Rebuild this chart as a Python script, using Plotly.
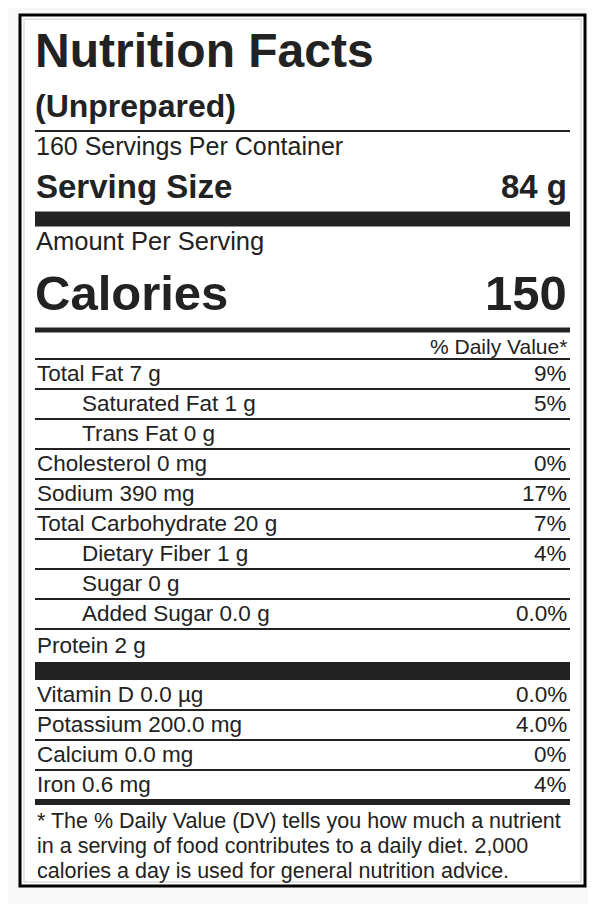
import plotly.graph_objects as go

title = "Nutrition Facts"
subtitle = "(Unprepared)"
servings = "160 Servings Per Container"
serving_size = "84 g"
calories = "150"
nutrients = ["Total Fat 7 g", "Saturated Fat 1 g", "Trans Fat 0 g", "Cholesterol 0 mg",
             "Sodium 390 mg", "Total Carbohydrate 20 g", "Dietary Fiber 1 g", "Sugar 0 g",
             "Added Sugar 0.0 g", "Protein 2 g"]
nutrient_dv = ["9%", "5%", "", "0%", "17%", "7%", "4%", "", "0.0%", ""]
indent = [0, 1, 1, 0, 0, 0, 1, 1, 1, 0]
vitamins = ["Vitamin D 0.0 µg", "Potassium 200.0 mg", "Calcium 0.0 mg", "Iron 0.6 mg"]
vitamin_dv = ["0.0%", "4.0%", "0%", "4%"]
footnote = ["* The % Daily Value (DV) tells you how much a nutrient",
            "in a serving of food contributes to a daily diet. 2,000",
            "calories a day is used for general nutrition advice."]

L, R = 35, 570
C = "#222222"
F = "Liberation Sans, Arial, sans-serif"
fig = go.Figure()
shapes, ann = [], []

def line(y, w):
    shapes.append(dict(type="rect", x0=L, x1=R, y0=y - w / 2, y1=y + w / 2,
                       fillcolor=C, line_width=0, layer="above"))

def text(x, y, s, size, bold=False, anchor="left"):
    ann.append(dict(x=x, y=y, text=f"<b>{s}</b>" if bold else s, showarrow=False,
                    xanchor=anchor, yanchor="middle", xshift=-1 if anchor == "right" else 0,
                    font=dict(family=F, size=size, color=C)))

# border
shapes.append(dict(type="rect", x0=20, x1=585, y0=15, y1=886, fillcolor="white",
                   line=dict(color="black", width=3), layer="below"))
shapes.append(dict(type="rect", x0=24, x1=581, y0=19, y1=882,
                   line=dict(color="#cccccc", width=1), layer="below"))

text(L - 2, 50, title, 48, True)
text(L - 2, 106, subtitle, 32, True)
line(131, 2)
text(L - 1, 146, servings, 25)
text(L - 1, 186, "Serving Size", 33, True)
text(R, 186, serving_size, 33, True, "right")
line(219, 15)
text(L - 1, 241, "Amount Per Serving", 25.5)
text(L - 2, 293, "Calories", 49, True)
text(R, 293, calories, 49, True, "right")
line(330, 5)
text(R, 346, "% Daily Value*", 21, anchor="right")
line(359, 2)

y0, pitch = 373, 30
for i, (n, d, ind) in enumerate(zip(nutrients, nutrient_dv, indent)):
    y = y0 + i * pitch + (2 if i == len(nutrients) - 1 else 0)
    text(L + 45 * ind, y, n, 22.5)
    if d:
        text(R, y, d, 22.5, anchor="right")
    if i < len(nutrients) - 1:
        line(y + 16, 2)
line(671, 18)
for i, (n, d) in enumerate(zip(vitamins, vitamin_dv)):
    y = 694 + i * 30
    text(L, y, n, 22.5)
    text(R, y, d, 22.5, anchor="right")
    if i < len(vitamins) - 1:
        line(y + 16, 2)
line(802, 6)
for i, s in enumerate(footnote):
    text(L, 821 + i * 25, s, 21.5)

# the page body has an 8px margin, so the visible area starts at page offset 8
fig.update_layout(width=596, height=904, margin=dict(l=0, r=0, t=0, b=0),
                  paper_bgcolor="#f8f8f8", plot_bgcolor="#f8f8f8",
                  xaxis=dict(range=[8, 604], visible=False, fixedrange=True),
                  yaxis=dict(range=[912, 8], visible=False, fixedrange=True),
                  shapes=shapes, annotations=ann, showlegend=False)
fig.write_html("out.html", config={"displayModeBar": False})
